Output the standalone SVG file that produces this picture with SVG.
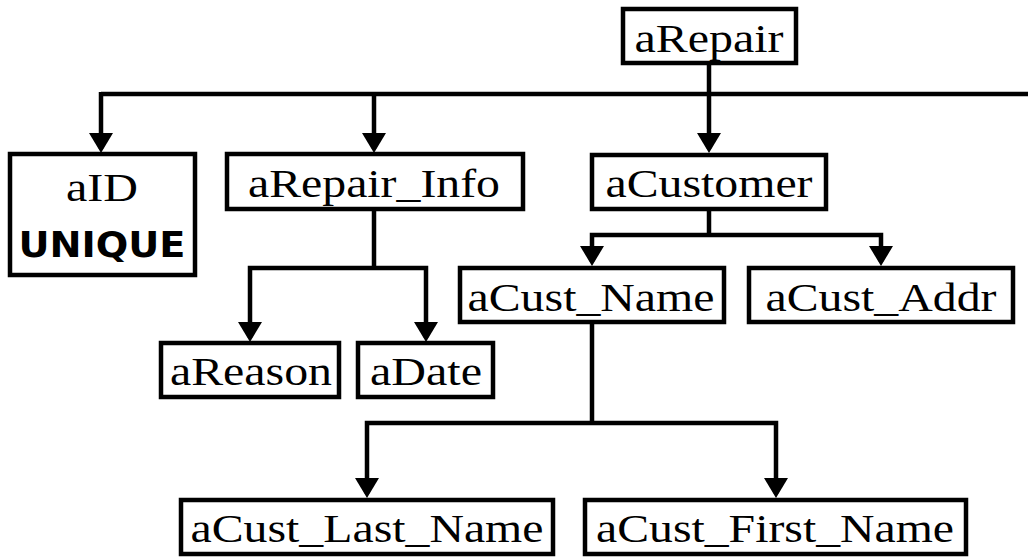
<svg xmlns="http://www.w3.org/2000/svg" width="1028" height="557" viewBox="0 0 1028 557">
  <style>
    .box { fill: #ffffff; stroke: #000000; stroke-width: 4.5; }
    .lbl { font-family: "Liberation Serif", "Times New Roman", serif; font-size: 41px; fill: #000000; text-anchor: middle; }
    .tag { font-family: "DejaVu Sans", Verdana, sans-serif; font-weight: bold; font-size: 36px; fill: #000000; text-anchor: middle; }
    .wire { fill: none; stroke: #000000; stroke-width: 4.5; stroke-linejoin: miter; }
    .arrow { marker-end: url(#head); }
  </style>
  <defs>
    <marker id="head" viewBox="0 0 20 24" refX="16" refY="12" markerWidth="20" markerHeight="24" markerUnits="userSpaceOnUse" orient="auto">
      <path d="M0,0 L20,12 L0,24 Z" fill="#000000"/>
    </marker>
  </defs>

  <rect width="1028" height="557" fill="#ffffff"/>

  <!-- connectors -->
  <g id="connectors">
    <!-- aRepair trunk and top bus -->
    <line class="wire" x1="709" y1="63" x2="709" y2="94"/>
    <polyline class="wire" points="1028,94 101,94"/>
    <polyline class="wire arrow" points="101,92 101,149"/>
    <polyline class="wire arrow" points="374,94 374,149"/>
    <polyline class="wire arrow" points="709,94 709,149"/>
    <!-- aRepair_Info children -->
    <line class="wire" x1="374" y1="209" x2="374" y2="268"/>
    <polyline class="wire arrow" points="374,268 250,268 250,338"/>
    <polyline class="wire arrow" points="374,268 426,268 426,338"/>
    <!-- aCustomer children -->
    <line class="wire" x1="709" y1="209" x2="709" y2="235"/>
    <polyline class="wire arrow" points="709,235 592,235 592,262"/>
    <polyline class="wire arrow" points="709,235 881,235 881,262"/>
    <!-- aCust_Name children -->
    <line class="wire" x1="592" y1="322" x2="592" y2="423"/>
    <polyline class="wire arrow" points="592,423 367,423 367,494"/>
    <polyline class="wire arrow" points="592,423 776,423 776,494"/>
  </g>

  <g id="aRepair">
    <rect class="box" x="623" y="9" width="173" height="54"/>
    <text class="lbl" x="709" y="52" textLength="149" lengthAdjust="spacingAndGlyphs">aRepair</text>
  </g>

  <g id="aID">
    <rect class="box" x="10" y="154" width="185" height="121"/>
    <text class="lbl" x="102" y="201" textLength="72" lengthAdjust="spacingAndGlyphs">aID</text>
    <text class="tag" x="102" y="257" textLength="167" lengthAdjust="spacingAndGlyphs">UNIQUE</text>
  </g>

  <g id="aRepair_Info">
    <rect class="box" x="227" y="154" width="296" height="55"/>
    <text class="lbl" x="374" y="197" textLength="252" lengthAdjust="spacingAndGlyphs">aRepair_Info</text>
  </g>

  <g id="aCustomer">
    <rect class="box" x="592" y="155" width="234" height="54"/>
    <text class="lbl" x="709" y="197" textLength="207" lengthAdjust="spacingAndGlyphs">aCustomer</text>
  </g>

  <g id="aCust_Name">
    <rect class="box" x="460" y="268" width="264" height="54"/>
    <text class="lbl" x="591" y="311" textLength="247" lengthAdjust="spacingAndGlyphs">aCust_Name</text>
  </g>

  <g id="aCust_Addr">
    <rect class="box" x="749" y="268" width="264" height="54"/>
    <text class="lbl" x="881" y="311" textLength="231" lengthAdjust="spacingAndGlyphs">aCust_Addr</text>
  </g>

  <g id="aReason">
    <rect class="box" x="161" y="343" width="178" height="54"/>
    <text class="lbl" x="251" y="385" textLength="162" lengthAdjust="spacingAndGlyphs">aReason</text>
  </g>

  <g id="aDate">
    <rect class="box" x="358" y="343" width="135" height="54"/>
    <text class="lbl" x="426" y="385" textLength="112" lengthAdjust="spacingAndGlyphs">aDate</text>
  </g>

  <g id="aCust_Last_Name">
    <rect class="box" x="181" y="500" width="372" height="54"/>
    <text class="lbl" x="367" y="542" textLength="353" lengthAdjust="spacingAndGlyphs">aCust_Last_Name</text>
  </g>

  <g id="aCust_First_Name">
    <rect class="box" x="585" y="500" width="381" height="54"/>
    <text class="lbl" x="775" y="542" textLength="358" lengthAdjust="spacingAndGlyphs">aCust_First_Name</text>
  </g>
</svg>
